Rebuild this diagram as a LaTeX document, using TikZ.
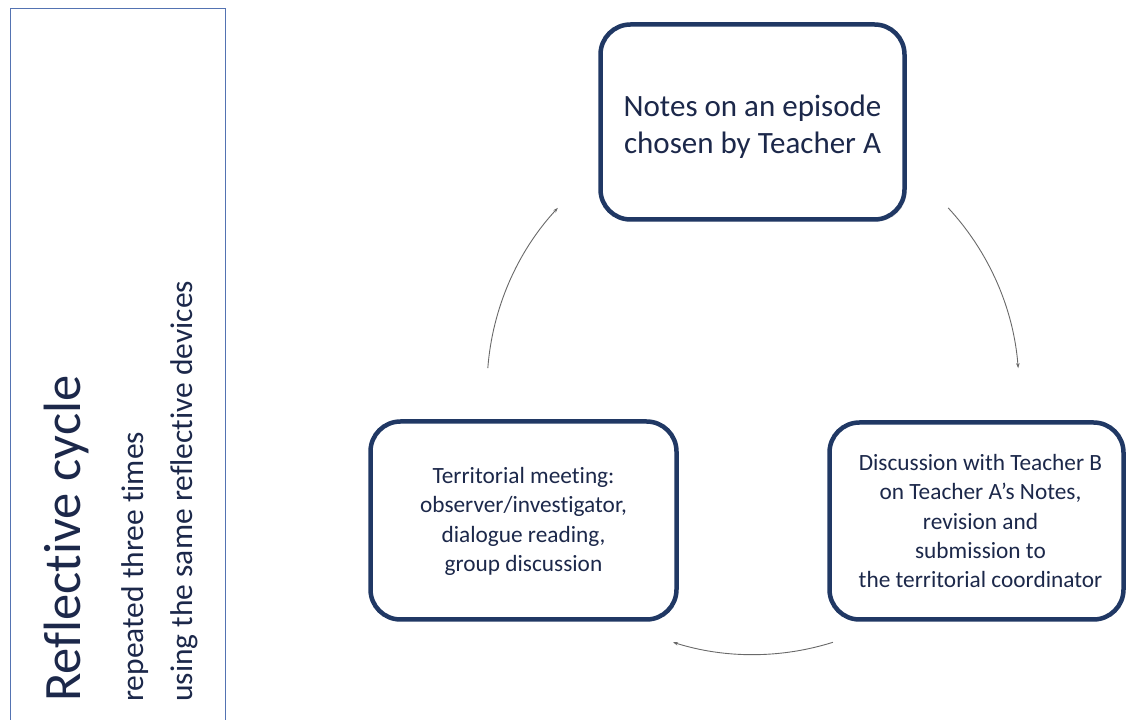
\documentclass[tikz,border=0pt]{standalone}
\usepackage{fontspec}
\setmainfont{Carlito}[Ligatures=NoCommon]
\usetikzlibrary{arrows.meta,shadows}
\definecolor{navy}{RGB}{32,56,100}
\definecolor{ink}{RGB}{28,40,74}
\definecolor{panelblue}{RGB}{84,115,178}
\definecolor{arcgray}{RGB}{105,105,105}
\begin{document}
\begin{tikzpicture}[x=1pt,y=1pt,
  stagebox/.style={draw=navy, line width=4.5pt, rounded corners=30pt, fill=white,
    inner sep=0pt},
  stagetext/.style={text=ink, align=center, inner sep=0pt},
  smalltext/.style={font=\fontsize{23.3}{29.4}\selectfont},
  cyc/.style={draw=arcgray, line width=0.9pt, -{Stealth[length=5pt,width=3.5pt]}},
  side/.style={text=ink, rotate=90, anchor=base west, inner sep=0pt}]
\useasboundingbox (0,0) rectangle (1128,720);
\clip (0,0) rectangle (1128,720);

% side panel, open at the bottom
\draw[panelblue, line width=1pt] (10,-5) -- (10,711) -- (225,711) -- (225,-5);
\node[side, font=\fontsize{52.5}{60}\selectfont] (title) at (80,18) {Reflective cycle};
\node[side, font=\fontsize{31.5}{36}\selectfont] (sub1) at (143,18) {repeated three times};
\node[side, font=\fontsize{31.5}{36}\selectfont] (sub2) at (192,18) {using the same reflective devices};

% the three stages
\node[stagebox, drop shadow={opacity=0.25, shadow xshift=2pt, shadow yshift=-2pt},
  minimum width=304pt, minimum height=195pt] (notes) at (752.5,598) {};
\node[stagetext, font=\fontsize{31}{37}\selectfont] (notesText) at ([yshift=-5pt]notes.center)
  {Notes on an episode\\chosen by Teacher A};

\node[stagebox, minimum width=306pt, minimum height=198pt] (meeting) at (523.5,199.5) {};
\node[stagetext, smalltext] (meetingText) at ([yshift=-1pt]meeting.center)
  {Territorial meeting:\\observer/investigator,\\dialogue reading,\\group discussion};

\node[stagebox, minimum width=294pt, minimum height=197pt] (discussion) at (976.5,199) {};
\node[stagetext, smalltext] (discussionText) at ([xshift=4pt]discussion.center)
  {Discussion with Teacher B\\on Teacher A’s Notes,\\revision and\\submission to\\the territorial coordinator};

% cycle arcs on a common circle
\coordinate (c) at (753,331.4);
\coordinate (a1) at ([shift={(175.6:266)}]c);
\coordinate (a2) at ([shift={(42.8:266)}]c);
\coordinate (a3) at ([shift={(287.5:266)}]c);
\draw[cyc] (a1) arc[start angle=175.6, end angle=137.2, radius=266];
\draw[cyc] (a2) arc[start angle=42.8, end angle=4.4, radius=266];
\draw[cyc] (a3) arc[start angle=287.5, end angle=252.5, radius=266];
\end{tikzpicture}
\end{document}
